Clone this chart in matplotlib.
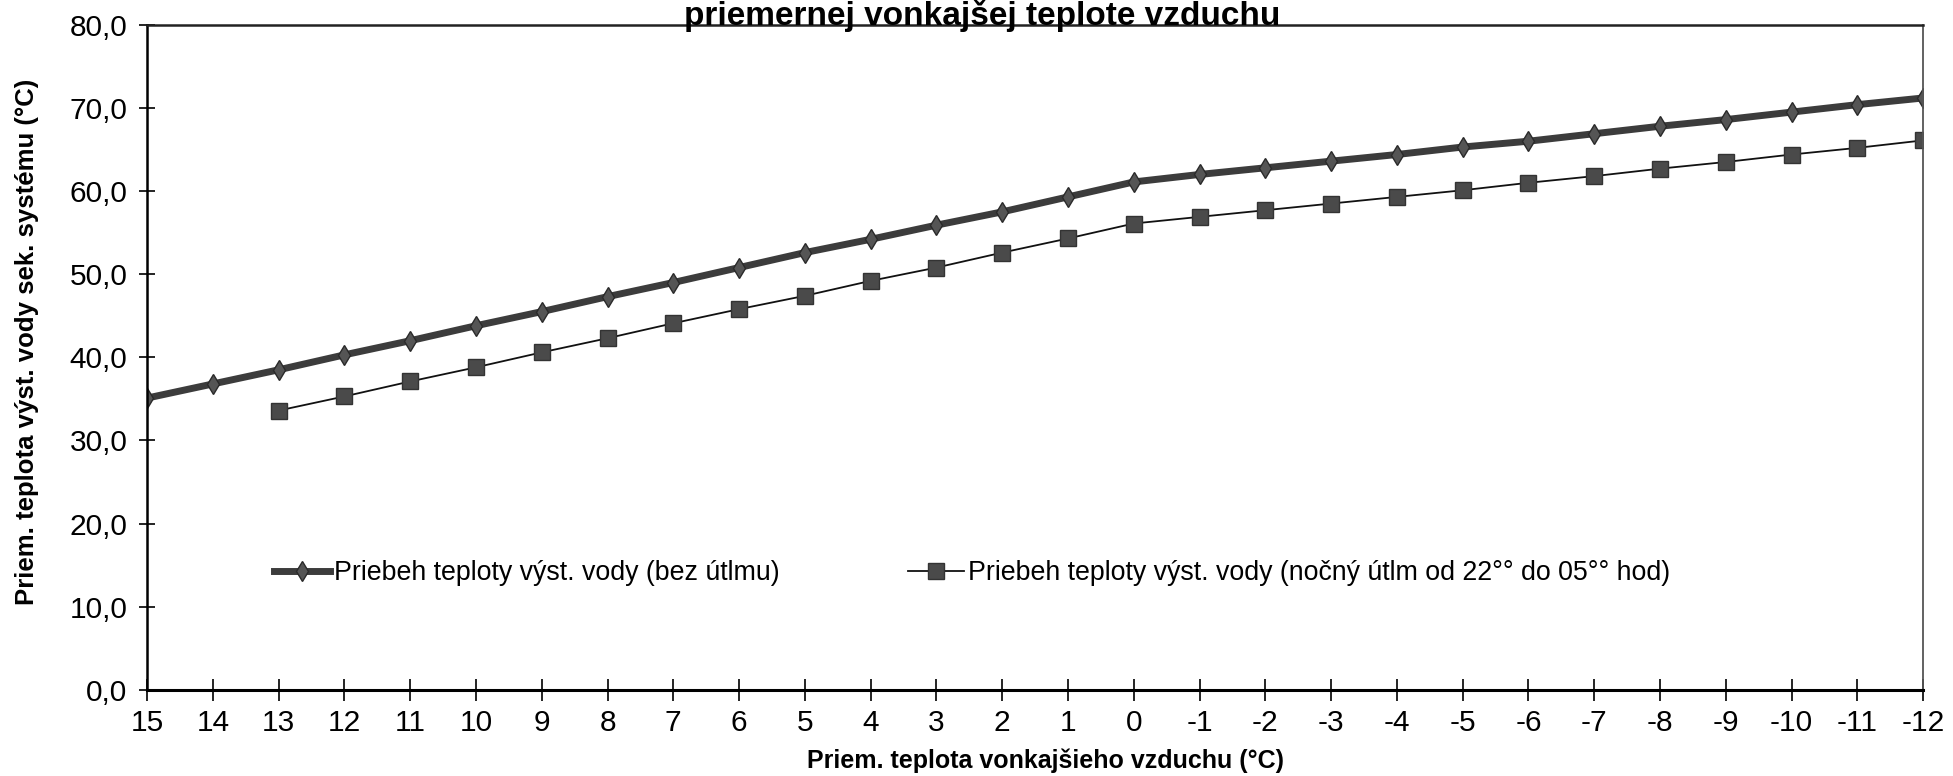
import numpy as np
import matplotlib.pyplot as plt
from matplotlib.ticker import FuncFormatter

plt.rcParams['font.family'] = ['Liberation Sans', 'DejaVu Sans']

outdoor = ["15", "14", "13", "12", "11", "10", "9", "8", "7", "6", "5", "4", "3", "2", "1", "0",
           "-1", "-2", "-3", "-4", "-5", "-6", "-7", "-8", "-9", "-10", "-11", "-12"]
bez_utlmu = [35.1, 36.8, 38.5, 40.3, 42.0, 43.8, 45.5, 47.3, 49.0, 50.8, 52.6, 54.2, 55.9, 57.5,
             59.3, 61.1, 62.0, 62.8, 63.6, 64.4, 65.3, 66.0, 66.9, 67.8, 68.6, 69.5, 70.4, 71.2]
# night setback series starts at 13 °C
nocny_utlm = [None, None, 33.6, 35.3, 37.1, 38.8, 40.6, 42.3, 44.1, 45.8, 47.4, 49.2, 50.8, 52.6,
              54.3, 56.1, 56.9, 57.7, 58.5, 59.3, 60.1, 61.0, 61.8, 62.7, 63.5, 64.4, 65.2, 66.1]

lbl1 = "Priebeh teploty výst. vody (bez útlmu)"
lbl2 = "Priebeh teploty výst. vody (nočný útlm od 22°° do 05°° hod)"

x = np.arange(len(outdoor))
y2 = np.array([np.nan if v is None else v for v in nocny_utlm])

fig = plt.figure(figsize=(19.53, 7.76), dpi=100)
ax = fig.add_axes([0.0753, 0.111, 0.9094, 0.857])

ax.plot(x, bez_utlmu, color='#3c3c3c', lw=5, marker='d', markersize=10,
        markerfacecolor='#555555', markeredgecolor='#2a2a2a', markeredgewidth=1, label=lbl1)
ax.plot(x, y2, color='#111111', lw=1.3, marker='s', markersize=11.5,
        markerfacecolor='#4a4a4a', markeredgecolor='#333333', markeredgewidth=1, label=lbl2)

ax.set_xlim(0, len(outdoor) - 1)
ax.set_ylim(0, 80)
ax.set_xticks(x)
ax.set_xticklabels(outdoor)
ax.set_yticks(np.arange(0, 81, 10))
ax.yaxis.set_major_formatter(FuncFormatter(lambda v, p: f"{v:.1f}".replace('.', ',')))
ax.tick_params(axis='x', direction='inout', length=16, width=1.2, labelsize=21.5, pad=6)
ax.tick_params(axis='y', direction='inout', length=12, width=1.2, labelsize=21.5, pad=8)

ax.spines['left'].set_linewidth(1.8)
ax.spines['bottom'].set_linewidth(2.2)
ax.spines['top'].set_linewidth(1.8)
ax.spines['top'].set_color('#222222')
ax.spines['right'].set_linewidth(1.3)
ax.spines['right'].set_color('#555555')

ax.set_xlabel("Priem. teplota vonkajšieho vzduchu (°C)", fontsize=18, fontweight='bold')
ax.set_ylabel("Priem. teplota výst. vody sek. systému (°C)", fontsize=18.5, fontweight='bold')
ax.xaxis.set_label_coords(0.506, -0.088)
ax.yaxis.set_label_coords(-0.061, 0.524)

fig.text(0.503, 0.968, "priemernej vonkajšej teplote vzduchu", fontsize=24, fontweight='bold',
         ha='center', va='baseline')

fig.legend(loc='center left', bbox_to_anchor=(274 / 1953, 1 - 573 / 776), ncol=2, frameon=False,
           fontsize=19.3, handlelength=2.1, handletextpad=0.15, columnspacing=4.78,
           borderpad=0, borderaxespad=0)

fig.savefig("out.png", dpi=100)
